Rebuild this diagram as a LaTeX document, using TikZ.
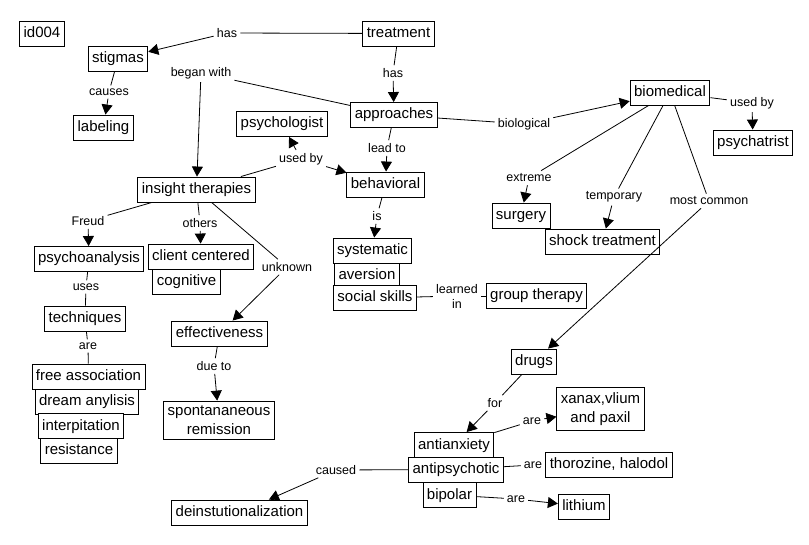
\documentclass[tikz,border=0pt]{standalone}
\usepackage{fontspec}
\setmainfont{Liberation Sans}
\usetikzlibrary{arrows.meta}
\tikzset{
 concept/.style={draw, line width=0.9pt, fill=white, font=\fontsize{15}{19}\selectfont, inner xsep=4pt, inner ysep=5pt, text height=11.5pt, text depth=3.5pt},
 concepttwo/.style={draw, line width=0.9pt, fill=white, font=\fontsize{15}{19}\selectfont, inner xsep=4pt, inner ysep=5pt, align=center},
 lbl/.style={font=\fontsize{12.5}{15}\selectfont, inner sep=3pt},
 conn/.style={line width=0.8pt},
 arr/.style={conn, -{Triangle[length=10pt,width=11pt]}},
}
\begin{document}
\begin{tikzpicture}[x=1pt,y=-1pt]
\fill[white] (0,0) rectangle (809,545);
\useasboundingbox (0,0) rectangle (809,545);
% concepts
\node[concept] (id) at (42,34) {id004};
\node[concept] (treat) at (398.5,33.5) {treatment};
\node[concept] (stig) at (118,59) {stigmas};
\node[concept] (labeling) at (103.5,127.5) {labeling};
\node[concept] (appr) at (394,115) {approaches};
\node[concept] (psych) at (282,124) {psychologist};
\node[concept] (insight) at (196.5,189.5) {insight therapies};
\node[concept] (behav) at (385.5,184.5) {behavioral};
\node[concept] (syst) at (372.5,250.5) {systematic};
\node[concept] (avers) at (367,275.5) {aversion};
\node[concept] (social) at (375,298) {social skills};
\node[concept] (group) at (536.5,296) {group therapy};
\node[concept] (surg) at (521,215.5) {surgery};
\node[concept] (shock) at (602.5,241.5) {shock treatment};
\node[concept] (biomed) at (670,92.5) {biomedical};
\node[concept] (psychia) at (753,142.5) {psychatrist};
\node[concept] (psychoan) at (89,259) {psychoanalysis};
\node[concept] (client) at (201,256.5) {client centered};
\node[concept] (cogn) at (186.5,281.5) {cognitive};
\node[concept] (tech) at (85,318.5) {techniques};
\node[concept] (effect) at (219.5,333.5) {effectiveness};
\node[concept] (free) at (88.5,376.5) {free association};
\node[concept] (dream) at (87,401.5) {dream anylisis};
\node[concept] (interp) at (81,426) {interpitation};
\node[concept] (resist) at (79,450.5) {resistance};
\node[concepttwo] (spont) at (219,420.5) {spontananeous\\remission};
\node[concept] (drugs) at (534,361.5) {drugs};
\node[concepttwo] (xanax) at (600.5,409) {xanax,vlium\\and paxil};
\node[concept] (anx) at (454,445) {antianxiety};
\node[concept] (antip) at (456,469.5) {antipsychotic};
\node[concept] (bip) at (449.5,495) {bipolar};
\node[concept] (thor) at (609,464.5) {thorozine, halodol};
\node[concept] (lith) at (584,506.5) {lithium};
\node[concept] (dein) at (239.5,512.5) {deinstutionalization};
% linking phrases
\node[lbl] (lhasa) at (227,33) {has};
\node[lbl] (lhasb) at (393,73) {has};
\node[lbl] (lbegan) at (201,73) {began with};
\node[lbl] (lcauses) at (109,92) {causes};
\node[lbl] (lusedbya) at (301,159) {used by};
\node[lbl] (lleadto) at (387,148) {lead to};
\node[lbl] (lis) at (377,216) {is};
\node[lbl, align=center] (llearned) at (457,296) {learned\\in};
\node[lbl] (lbio) at (524,124) {biological};
\node[lbl] (lusedbyb) at (752,103) {used by};
\node[lbl] (lextreme) at (529,178) {extreme};
\node[lbl] (ltemp) at (614,197) {temporary};
\node[lbl] (lmost) at (709,201) {most common};
\node[lbl] (lfreud) at (88,221) {Freud};
\node[lbl] (lothers) at (200,223) {others};
\node[lbl] (lunknown) at (287,267) {unknown};
\node[lbl] (luses) at (86,287) {uses};
\node[lbl] (larea) at (88,346) {are};
\node[lbl] (ldue) at (214,366) {due to};
\node[lbl] (lfor) at (495,403) {for};
\node[lbl] (lareb) at (532,421) {are};
\node[lbl] (larec) at (533,465) {are};
\node[lbl] (lared) at (516,499) {are};
\node[lbl] (lcaused) at (336,470) {caused};
% connectors
\draw[conn] (treat) -- (lhasa); \draw[arr] (lhasa) -- (stig);
\draw[conn] (treat) -- (lhasb); \draw[arr] (lhasb) -- (appr);
\draw[conn] (appr) -- (lbegan); \draw[arr] (lbegan) -- (insight);
\draw[conn] (stig) -- (lcauses); \draw[arr] (lcauses) -- (labeling);
\draw[conn] (appr) -- (lleadto); \draw[arr] (lleadto) -- (behav);
\draw[conn] (appr) -- (lbio); \draw[arr] (lbio) -- (biomed);
\draw[conn] (insight) -- (lusedbya); \draw[arr] (lusedbya) -- (psych); \draw[arr] (lusedbya) -- (behav);
\draw[conn] (behav) -- (lis); \draw[arr] (lis) -- (syst);
\draw[conn] (social) -- (llearned); \draw[conn] (llearned) -- (group);
\draw[conn] (biomed) -- (lusedbyb); \draw[arr] (lusedbyb) -- (psychia);
\draw[conn] (biomed) -- (lextreme); \draw[arr] (lextreme) -- (surg);
\draw[conn] (biomed) -- (ltemp); \draw[arr] (ltemp) -- (shock);
\draw[conn] (biomed) -- (lmost); \draw[arr] (lmost) -- (drugs);
\draw[conn] (insight) -- (lfreud); \draw[arr] (lfreud) -- (psychoan);
\draw[conn] (insight) -- (lothers); \draw[arr] (lothers) -- (client);
\draw[conn] (insight) -- (lunknown); \draw[arr] (lunknown) -- (effect);
\draw[conn] (psychoan) -- (luses); \draw[conn] (luses) -- (tech);
\draw[conn] (tech) -- (larea); \draw[conn] (larea) -- (free);
\draw[conn] (effect) -- (ldue); \draw[arr] (ldue) -- (spont);
\draw[conn] (drugs) -- (lfor); \draw[arr] (lfor) -- (anx);
\draw[conn] (anx) -- (lareb); \draw[arr] (lareb) -- (xanax);
\draw[conn] (antip) -- (larec); \draw[conn] (larec) -- (thor);
\draw[conn] (bip) -- (lared); \draw[arr] (lared) -- (lith);
\draw[conn] (antip) -- (lcaused); \draw[arr] (lcaused) -- (dein);
\end{tikzpicture}
\end{document}
